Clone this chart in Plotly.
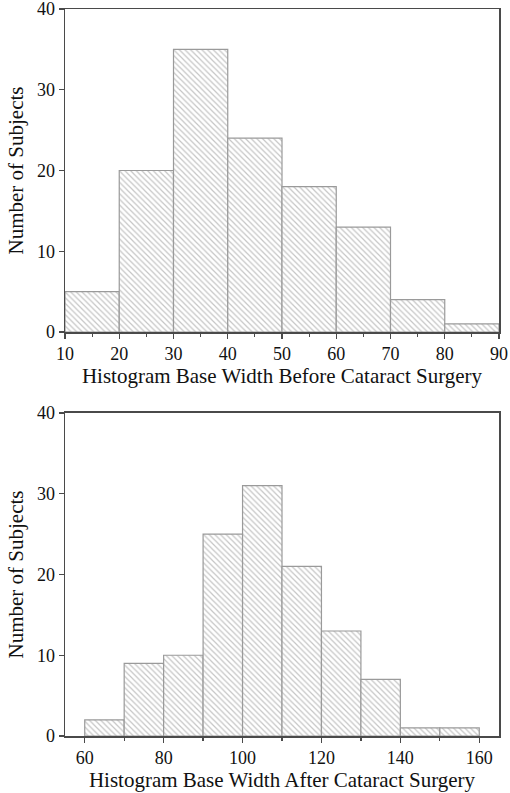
import plotly.graph_objects as go
from plotly.subplots import make_subplots

# Top histogram: before surgery
before_edges = [10, 20, 30, 40, 50, 60, 70, 80]
before_counts = [5, 20, 35, 24, 18, 13, 4, 1]
# Bottom histogram: after surgery
after_edges = [60, 70, 80, 90, 100, 110, 120, 130, 140, 150]
after_counts = [2, 9, 10, 25, 31, 21, 13, 7, 1, 1]
bin_width = 10

top_xtitle = "Histogram Base Width Before Cataract Surgery"
bottom_xtitle = "Histogram Base Width After Cataract Surgery"
ytitle = "Number of Subjects"

fig = make_subplots(rows=2, cols=1, vertical_spacing=0.1)

def add_hist(edges, counts, row):
    fig.add_trace(go.Bar(
        x=[e + bin_width / 2 for e in edges],
        y=counts,
        width=bin_width,
        marker=dict(
            color="white",
            line=dict(color="#9a9a9a", width=1.2),
            pattern=dict(shape="\\", fgcolor="#8c8c8c", bgcolor="white",
                         size=4, solidity=0.3),
        ),
        showlegend=False,
        hoverinfo="skip",
    ), row=row, col=1)

add_hist(before_edges, before_counts, 1)
add_hist(after_edges, after_counts, 2)

font_family = "Liberation Serif, Times New Roman, serif"
tick_font = dict(family=font_family, size=18, color="#111")
title_font = dict(family=font_family, size=21, color="#111")
axis_common = dict(
    showgrid=False, zeroline=False, showline=True, linecolor="#4a4a4a",
    linewidth=1.5, mirror=True, ticks="outside", ticklen=5, tickwidth=1.2,
    tickcolor="#4a4a4a", tickfont=tick_font, automargin=False,
    ticklabeloverflow="allow",
)

fig.update_xaxes(**axis_common)
fig.update_yaxes(**axis_common)

fig.update_xaxes(range=[10, 90], dtick=10, tick0=10,
                 minor=dict(dtick=5, ticks="outside", ticklen=3, tickcolor="#4a4a4a"),
                 title=dict(text=top_xtitle, font=title_font, standoff=1),
                 row=1, col=1)
fig.update_xaxes(range=[55, 165], dtick=20, tick0=60,
                 minor=dict(dtick=10, ticks="outside", ticklen=3, tickcolor="#4a4a4a"),
                 title=dict(text=bottom_xtitle, font=title_font, standoff=2),
                 row=2, col=1)
for r in (1, 2):
    fig.update_yaxes(range=[0, 40], dtick=10,
                     title=dict(text=ytitle, font=title_font, standoff=7),
                     row=r, col=1)

fig.update_layout(
    width=510, height=793,
    margin=dict(l=65, r=11, t=9, b=57, autoexpand=False),
    plot_bgcolor="white", paper_bgcolor="white",
    bargap=0,
    yaxis=dict(domain=[0.5557, 1.0]),
    yaxis2=dict(domain=[0.0, 0.4443]),
)

fig.write_html("out.html", config={"displayModeBar": False, "staticPlot": True},
               post_script="document.body.style.margin='0';")
